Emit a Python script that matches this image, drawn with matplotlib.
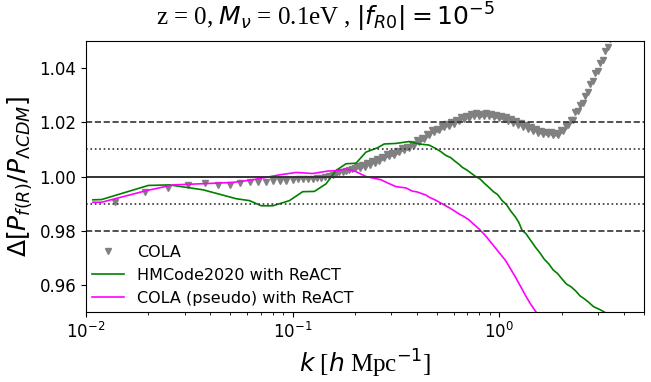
import matplotlib
matplotlib.use("Agg")
import matplotlib.pyplot as plt

# COLA ratio (dense at high k like the original)
k_cola = [0.0138, 0.0193, 0.0250, 0.0312, 0.0375, 0.0435, 0.0495, 0.0553,
          0.0618, 0.0678, 0.0744, 0.0801, 0.0863, 0.0929,
          0.1000, 0.1062, 0.1124, 0.1186, 0.1249, 0.1311, 0.1373, 0.1435,
          0.1497, 0.1559, 0.1621, 0.1683, 0.1745, 0.1807, 0.1869, 0.1931,
          0.1993,
          0.2050, 0.2107, 0.2166, 0.2227, 0.2289, 0.2353, 0.2419, 0.2487,
          0.2557, 0.2628, 0.2702, 0.2778, 0.2855, 0.2935, 0.3018, 0.3102,
          0.3189, 0.3279, 0.3370, 0.3465, 0.3562, 0.3661, 0.3764, 0.3869,
          0.3978, 0.4089, 0.4204, 0.4322, 0.4443, 0.4567, 0.4695, 0.4827,
          0.4962, 0.5101, 0.5244, 0.5391, 0.5542, 0.5697, 0.5856, 0.6020,
          0.6189, 0.6362, 0.6541, 0.6724, 0.6912, 0.7106, 0.7305, 0.7509,
          0.7719, 0.7936, 0.8158, 0.8386, 0.8621, 0.8863, 0.9111, 0.9366,
          0.9628, 0.9898, 1.0175, 1.046, 1.075, 1.105, 1.136, 1.168,
          1.201, 1.235, 1.269, 1.305, 1.341, 1.379, 1.418, 1.457,
          1.498, 1.540, 1.583, 1.628, 1.673, 1.720, 1.768, 1.818,
          1.869, 1.921, 1.975, 2.030, 2.087, 2.146, 2.206, 2.268,
          2.331, 2.396, 2.464, 2.533, 2.604, 2.677, 2.752, 2.829,
          2.908, 2.989, 3.073, 3.159, 3.248, 3.339, 3.432, 3.528]
r_cola = [0.9905, 0.9942, 0.9957, 0.9967, 0.9975, 0.9970, 0.9970, 0.9975,
          0.9978, 0.9979, 0.9980, 0.9982, 0.9983, 0.9985,
          0.9988, 0.9990, 0.9989, 0.9991, 0.9990, 0.9993, 0.9996, 0.9999,
          1.0003, 1.0006, 1.0011, 1.0016, 1.0018, 1.0022, 1.0024, 1.0028,
          1.0030,
          1.0038, 1.0030, 1.0042, 1.0035, 1.0049, 1.0044, 1.0058, 1.0051,
          1.0064, 1.0058, 1.0073, 1.0068, 1.0082, 1.0075, 1.0087, 1.0081,
          1.0095, 1.0090, 1.0104, 1.0097, 1.0110, 1.0105, 1.0121, 1.0118,
          1.0133, 1.0128, 1.0143, 1.0140, 1.0157, 1.0154, 1.0170, 1.0164,
          1.0177, 1.0171, 1.0186, 1.0181, 1.0195, 1.0188, 1.0201, 1.0195,
          1.0210, 1.0205, 1.0219, 1.0212, 1.0224, 1.0216, 1.0229, 1.0222,
          1.0233, 1.0223, 1.0232, 1.0222, 1.0233, 1.0223, 1.0232, 1.0220,
          1.0227, 1.0215, 1.0223, 1.0211, 1.0218, 1.0205, 1.0211, 1.0197,
          1.0204, 1.0191, 1.0197, 1.0183, 1.0189, 1.0175, 1.0182, 1.0169,
          1.0176, 1.0162, 1.0169, 1.0157, 1.0166, 1.0155, 1.0164, 1.0152,
          1.0162, 1.0154, 1.0170, 1.0168, 1.0188, 1.0189, 1.0209, 1.0210,
          1.0237, 1.0241, 1.0265, 1.0270, 1.0297, 1.0310, 1.0343, 1.0354,
          1.0382, 1.0391, 1.0420, 1.0431, 1.0463, 1.0478, 1.0509, 1.0522]

# HMCode2020 with ReACT
k_hm = [0.0108, 0.0119, 0.0200, 0.0254, 0.0368, 0.0533, 0.0618, 0.0704,
        0.0801, 0.0964, 0.1117, 0.1273, 0.1449, 0.1619, 0.1810, 0.2023,
        0.2260, 0.2570, 0.2770, 0.3153, 0.3656, 0.4084, 0.4565, 0.4900,
        0.5200, 0.5495, 0.5800, 0.6100, 0.6350, 0.6608, 0.6950, 0.7300,
        0.7670, 0.8050, 0.8450, 0.8889, 0.9350, 0.9800, 1.0305, 1.0800,
        1.1350, 1.196, 1.240, 1.287, 1.340, 1.410, 1.493, 1.570,
        1.650, 1.730, 1.820, 1.910, 2.007, 2.110, 2.220, 2.329,
        2.450, 2.570, 2.700, 2.850, 3.000, 3.130, 3.300]
r_hm = [0.9914, 0.9915, 0.9967, 0.9969, 0.9951, 0.9918, 0.9911, 0.9892,
        0.9892, 0.9911, 0.9944, 0.9945, 0.9973, 1.0022, 1.0047, 1.0049,
        1.0090, 1.0106, 1.0120, 1.0122, 1.0129, 1.0120, 1.0116, 1.0104,
        1.0092, 1.0078, 1.0070, 1.0056, 1.0046, 1.0034, 1.0024, 1.0012,
        1.0000, 0.9991, 0.9975, 0.9960, 0.9944, 0.9933, 0.9911, 0.9897,
        0.9872, 0.9850, 0.9831, 0.9801, 0.9790, 0.9766, 0.9739, 0.9718,
        0.9694, 0.9678, 0.9655, 0.9642, 0.9622, 0.9603, 0.9593, 0.9579,
        0.9560, 0.9549, 0.9536, 0.9520, 0.9512, 0.9505, 0.9495]

# COLA (pseudo) with ReACT
k_ps = [0.0108, 0.0119, 0.0196, 0.0264, 0.0355, 0.0513, 0.0641, 0.0863,
        0.1038, 0.1249, 0.1475, 0.1680, 0.1810, 0.2023, 0.2260, 0.2670,
        0.2900, 0.3153, 0.3350, 0.3524, 0.3793, 0.4000, 0.4237, 0.4400,
        0.4565, 0.4900, 0.5292, 0.5800, 0.6370, 0.6700, 0.7119, 0.7500,
        0.7955, 0.8550, 0.9224, 0.9900, 1.070, 1.130, 1.196, 1.260,
        1.336, 1.410, 1.493, 1.520]
r_ps = [0.9905, 0.9905, 0.9948, 0.9969, 0.9973, 0.9978, 0.9988, 1.0006,
        1.0015, 1.0011, 1.0020, 1.0022, 1.0028, 1.0018, 1.0000, 0.9988,
        0.9975, 0.9963, 0.9960, 0.9958, 0.9946, 0.9943, 0.9936, 0.9932,
        0.9924, 0.9913, 0.9899, 0.9882, 0.9862, 0.9853, 0.9840, 0.9824,
        0.9807, 0.9782, 0.9751, 0.9722, 0.9690, 0.9660, 0.9628, 0.9597,
        0.9561, 0.9531, 0.9503, 0.9495]

fig = plt.figure(figsize=(6.51, 3.82), dpi=100)
ax = fig.add_axes([0.1321, 0.1832, 0.8571, 0.7095])

ax.plot(k_cola, r_cola, "v", color="grey", ms=4.5, label="COLA")
ax.plot(k_hm, r_hm, color="green", lw=1.2, label="HMCode2020 with ReACT")
ax.plot(k_ps, r_ps, color="magenta", lw=1.2, label="COLA (pseudo) with ReACT")

# reference bands
ax.axhline(1.0, color="0.2", lw=1.4)
for y in (0.99, 1.01):
    ax.axhline(y, color="0.2", lw=1.2, ls=":")
for y in (0.98, 1.02):
    ax.axhline(y, color="0.2", lw=1.2, ls="--")

ax.set_xscale("log")
ax.set_xlim(1e-2, 5)
ax.set_ylim(0.95, 1.05)
ax.set_yticks([0.96, 0.98, 1.00, 1.02, 1.04])
ax.tick_params(labelsize=12)

ax.set_xlabel(r"$k$ [$h$ Mpc$^{-1}$]", fontsize=18, family="Liberation Serif")
ax.set_ylabel(r"$\Delta[P_{f(R)}/P_{\Lambda CDM}]$", fontsize=18)
fig.text(0.5, 0.955, r"z = 0, $M_\nu$ = 0.1eV , $|f_{R0}| = 10^{-5}$",
         fontsize=18, family="Liberation Serif", ha="center", va="center")

ax.legend(loc="lower left", frameon=False, fontsize=11.5,
          borderaxespad=0.0, handletextpad=0.8)

fig.savefig("out.png", dpi=100)
